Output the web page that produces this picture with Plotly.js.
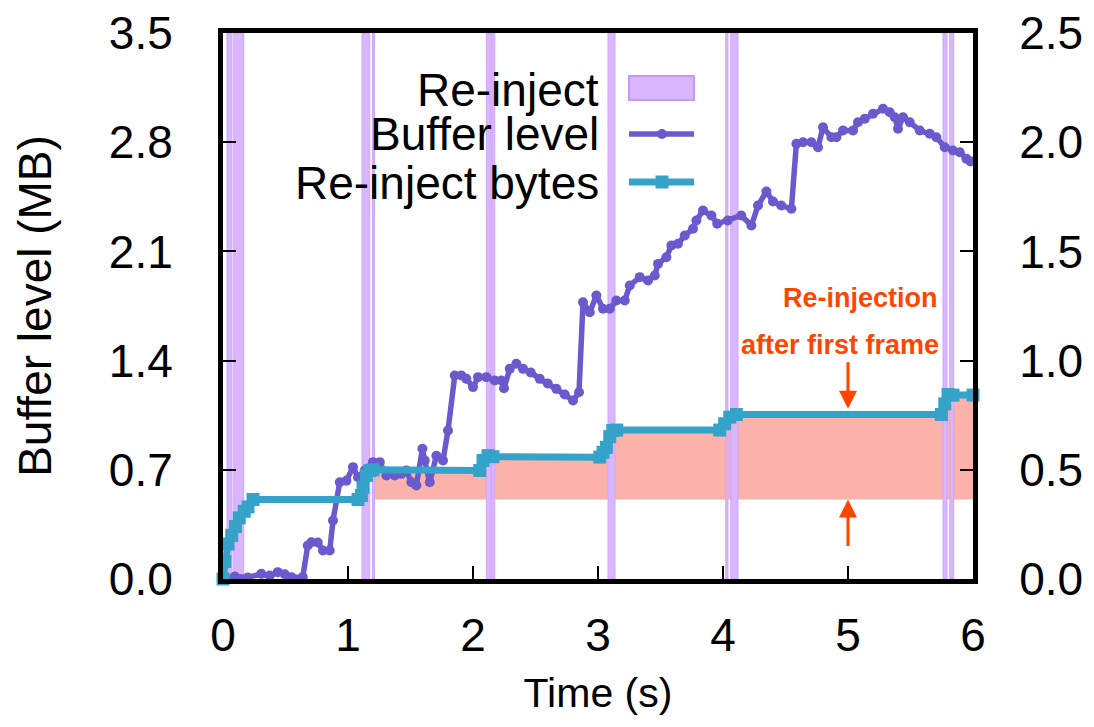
<!DOCTYPE html>
<html>
<head>
<meta charset="utf-8">
<script src="https://cdn.plot.ly/plotly-3.0.1.min.js"></script>
<style>html,body{margin:0;padding:0;background:#fff;}#chart{width:1094px;height:727px;}</style>
</head>
<body>
<div id="chart"></div>
<script>
// ---- Data ----
// Buffer level (MB), left axis
const bufferTime = [0, 0.094, 0.198, 0.307, 0.374, 0.438, 0.494, 0.547, 0.638, 0.678, 0.707, 0.758, 0.8, 0.854, 0.88, 0.934, 0.987, 1.04, 1.08, 1.134, 1.2, 1.254, 1.307, 1.374, 1.427, 1.467, 1.507, 1.547, 1.595, 1.614, 1.654, 1.707, 1.76, 1.8, 1.854, 1.907, 1.947, 2.0, 2.04, 2.107, 2.174, 2.227, 2.248, 2.294, 2.347, 2.4, 2.462, 2.534, 2.598, 2.667, 2.734, 2.8, 2.848, 2.88, 2.934, 2.987, 3.04, 3.094, 3.147, 3.214, 3.254, 3.334, 3.4, 3.454, 3.48, 3.547, 3.587, 3.64, 3.694, 3.76, 3.787, 3.84, 3.907, 3.954, 4.038, 4.146, 4.227, 4.28, 4.347, 4.4, 4.466, 4.547, 4.587, 4.64, 4.707, 4.76, 4.8, 4.867, 4.907, 4.96, 5.04, 5.08, 5.134, 5.2, 5.28, 5.334, 5.374, 5.4, 5.44, 5.494, 5.574, 5.654, 5.707, 5.774, 5.84, 5.894, 5.947, 5.98];
const bufferMB = [0, 0.016, 0.01, 0.033, 0.022, 0.044, 0.03, 0.012, 0.012, 0.215, 0.236, 0.234, 0.183, 0.183, 0.375, 0.62, 0.63, 0.717, 0.652, 0.695, 0.749, 0.749, 0.663, 0.663, 0.674, 0.696, 0.62, 0.6, 0.835, 0.76, 0.62, 0.79, 0.76, 0.952, 1.304, 1.304, 1.283, 1.23, 1.294, 1.294, 1.272, 1.272, 1.223, 1.347, 1.38, 1.347, 1.324, 1.283, 1.253, 1.219, 1.183, 1.144, 1.197, 1.774, 1.71, 1.817, 1.732, 1.732, 1.785, 1.785, 1.881, 1.935, 1.913, 1.945, 2.02, 2.063, 2.138, 2.149, 2.202, 2.245, 2.298, 2.362, 2.33, 2.277, 2.298, 2.33, 2.266, 2.394, 2.484, 2.42, 2.394, 2.373, 2.79, 2.8, 2.8, 2.768, 2.896, 2.832, 2.832, 2.875, 2.875, 2.928, 2.95, 2.982, 3.014, 2.992, 2.96, 2.886, 2.96, 2.928, 2.875, 2.854, 2.832, 2.768, 2.747, 2.736, 2.694, 2.676];

// Re-inject bytes, right axis
const reinjTime = [0, 0.015, 0.04, 0.07, 0.1, 0.13, 0.17, 0.2, 0.24, 1.08, 1.107, 1.12, 1.147, 1.174, 1.2, 2.054, 2.08, 2.12, 2.16, 3.014, 3.04, 3.067, 3.094, 3.118, 3.15, 3.974, 4.013, 4.054, 4.107, 5.747, 5.774, 5.8, 5.84, 6.0];
const reinjBytes = [0, 0.08, 0.16, 0.2, 0.24, 0.28, 0.31, 0.33, 0.364, 0.364, 0.382, 0.42, 0.474, 0.496, 0.5, 0.497, 0.543, 0.565, 0.56, 0.558, 0.58, 0.603, 0.652, 0.68, 0.682, 0.682, 0.711, 0.741, 0.753, 0.753, 0.802, 0.845, 0.842, 0.842];

// Re-inject periods (s)
const bandStart = [0.032, 0.086, 1.112, 1.196, 2.107, 2.15, 3.08, 4.022, 4.062, 5.76, 5.814];
const bandEnd   = [0.072, 0.166, 1.174, 1.212, 2.142, 2.174, 3.136, 4.04, 4.12, 5.792, 5.846];

// Re-injection after first frame: highlighted from this time, above the level reached before it
const afterFirstFrameStart = 1.2;
const afterFirstFrameBase = 0.364;

// Axis ticks
const xTicks = [0, 1, 2, 3, 4, 5, 6];
const yLeftTicks = [0, 0.7, 1.4, 2.1, 2.8, 3.5];
const yRightTicks = [0, 0.5, 1.0, 1.5, 2.0, 2.5];

// ---- Derived geometry built from the data ----
const yLeftMax = yLeftTicks[yLeftTicks.length - 1];
const yRightMax = yRightTicks[yRightTicks.length - 1];

const bandX = [], bandY = [];
bandStart.forEach((s, i) => {
  const e = bandEnd[i];
  bandX.push(s, s, e, e, s, null);
  bandY.push(0, yLeftMax, yLeftMax, 0, 0, null);
});

const fillX = [], fillY = [];
reinjTime.forEach((t, i) => { if (t >= afterFirstFrameStart) { fillX.push(t); fillY.push(reinjBytes[i]); } });
const lastT = fillX[fillX.length - 1];
fillX.push(lastT, afterFirstFrameStart, afterFirstFrameStart);
fillY.push(afterFirstFrameBase, afterFirstFrameBase, fillY[0]);

const FONT = 'Liberation Sans, Arial, Helvetica, sans-serif';
const PURPLE = '#6a5acd', CYAN = '#35a3c9', BAND = 'rgb(218,182,255)', SALMON = 'rgb(250,178,170)', ORANGE = '#ff4500';

// Layer order: salmon fill (right scale) < bands < buffer line < re-inject bytes line
const traces = [
  { x: fillX, y: fillY, xaxis: 'x', yaxis: 'y', type: 'scatter', mode: 'lines', fill: 'toself',
    fillcolor: SALMON, line: { width: 0, color: SALMON }, hoverinfo: 'skip', showlegend: false, name: 'after first frame' },
  { x: bandX, y: bandY, xaxis: 'x', yaxis: 'y2', type: 'scatter', mode: 'lines', fill: 'toself',
    fillcolor: BAND, line: { width: 1, color: 'rgb(206,165,252)' }, showlegend: false, name: 'Re-inject' },
  { x: bufferTime, y: bufferMB, xaxis: 'x', yaxis: 'y3', type: 'scatter', mode: 'lines+markers', name: 'Buffer level',
    line: { color: PURPLE, width: 5.5 }, marker: { color: PURPLE, size: 10, symbol: 'circle' }, cliponaxis: false, showlegend: false },
  { x: reinjTime, y: reinjBytes, xaxis: 'x', yaxis: 'y4', type: 'scatter', mode: 'lines+markers', name: 'Re-inject bytes',
    line: { color: CYAN, width: 7 }, marker: { color: CYAN, size: 13, symbol: 'square' }, cliponaxis: false, showlegend: false }
];

const L = 223, R = 121, T = 33, B = 148;
const W = 1094, H = 727;
const pw = W - L - R, ph = H - T - B;
const px = v => (v - L) / pw;          // pixel -> paper x
const py = v => (H - B - v) / ph;      // pixel -> paper y

const legendTextX = px(601);
const sampleX0 = px(629), sampleX1 = px(694), sampleXc = px(662);

const axisCommon = {
  showgrid: false, zeroline: false, showline: true, linecolor: '#000', linewidth: 5,
  ticks: 'inside', ticklen: 13, tickwidth: 2, tickcolor: '#000',
  tickfont: { family: FONT, size: 46, color: '#000' }
};

const layout = {
  width: W, height: H,
  margin: { l: L, r: R, t: T, b: B, pad: 0 },
  paper_bgcolor: '#fff', plot_bgcolor: '#fff',
  showlegend: false,
  font: { family: FONT, color: '#000' },
  xaxis: Object.assign({}, axisCommon, {
    range: [0, 6], tickvals: xTicks, mirror: true, ticklabelstandoff: 12,
    title: { text: 'Time (s)', font: { family: FONT, size: 41 }, standoff: 20 }
  }),
  // right axis (Re-inject bytes scale)
  yaxis: Object.assign({}, axisCommon, {
    range: [0, yRightMax], tickvals: yRightTicks, tickformat: '.1f', side: 'right', anchor: 'x',
    ticklabelstandoff: 32
  }),
  // left axis (Buffer level, MB)
  yaxis2: Object.assign({}, axisCommon, {
    range: [0, yLeftMax], tickvals: yLeftTicks, tickformat: '.1f', side: 'left', overlaying: 'y', anchor: 'x',
    ticklabelstandoff: 36,
    title: { text: 'Buffer level (MB)', font: { family: FONT, size: 46 }, standoff: 44 }
  }),
  yaxis3: { range: [0, yLeftMax], overlaying: 'y', anchor: 'x', visible: false, showgrid: false, zeroline: false },
  yaxis4: { range: [0, yRightMax], overlaying: 'y', anchor: 'x', visible: false, showgrid: false, zeroline: false },
  shapes: [
    { type: 'rect', xref: 'paper', yref: 'paper', x0: sampleX0, x1: sampleX1, y0: py(100), y1: py(76),
      fillcolor: BAND, line: { color: 'rgb(200,150,250)', width: 2 } },
    { type: 'line', xref: 'paper', yref: 'paper', x0: sampleX0, x1: sampleX1, y0: py(134), y1: py(134),
      line: { color: PURPLE, width: 5.5 } },
    { type: 'circle', xref: 'paper', yref: 'paper', xsizemode: 'pixel', ysizemode: 'pixel',
      xanchor: sampleXc, yanchor: py(134), x0: -5, x1: 5, y0: -5, y1: 5, fillcolor: PURPLE, line: { width: 0 } },
    { type: 'line', xref: 'paper', yref: 'paper', x0: sampleX0, x1: sampleX1, y0: py(182), y1: py(182),
      line: { color: CYAN, width: 7 } },
    { type: 'rect', xref: 'paper', yref: 'paper', xsizemode: 'pixel', ysizemode: 'pixel',
      xanchor: sampleXc, yanchor: py(182), x0: -6.5, x1: 6.5, y0: -6.5, y1: 6.5, fillcolor: CYAN, line: { width: 0 } }
  ],
  annotations: [
    { text: 'Re-inject', xref: 'paper', yref: 'paper', x: legendTextX, y: py(90), xanchor: 'right', yanchor: 'middle',
      showarrow: false, font: { family: FONT, size: 46, color: '#000' } },
    { text: 'Buffer level', xref: 'paper', yref: 'paper', x: legendTextX, y: py(134), xanchor: 'right', yanchor: 'middle',
      showarrow: false, font: { family: FONT, size: 46, color: '#000' } },
    { text: 'Re-inject bytes', xref: 'paper', yref: 'paper', x: legendTextX, y: py(183), xanchor: 'right', yanchor: 'middle',
      showarrow: false, font: { family: FONT, size: 46, color: '#000' } },
    { text: '<b>Re-injection</b>', xref: 'paper', yref: 'paper', x: px(940), y: py(298), xanchor: 'right', yanchor: 'middle',
      showarrow: false, font: { family: FONT, size: 27, color: ORANGE } },
    { text: '<b>after first frame</b>', xref: 'paper', yref: 'paper', x: px(941), y: py(345), xanchor: 'right', yanchor: 'middle',
      showarrow: false, font: { family: FONT, size: 27, color: ORANGE } },
    { text: '', xref: 'x', yref: 'y', x: 5, y: 0.78, ax: 0, ay: -48, showarrow: true,
      arrowhead: 2, arrowsize: 1.2, arrowwidth: 3, arrowcolor: ORANGE },
    { text: '', xref: 'x', yref: 'y', x: 5, y: afterFirstFrameBase, ax: 0, ay: 48, showarrow: true,
      arrowhead: 2, arrowsize: 1.2, arrowwidth: 3, arrowcolor: ORANGE }
  ]
};

Plotly.newPlot('chart', traces, layout, { staticPlot: true, displayModeBar: false });
</script>
</body>
</html>
